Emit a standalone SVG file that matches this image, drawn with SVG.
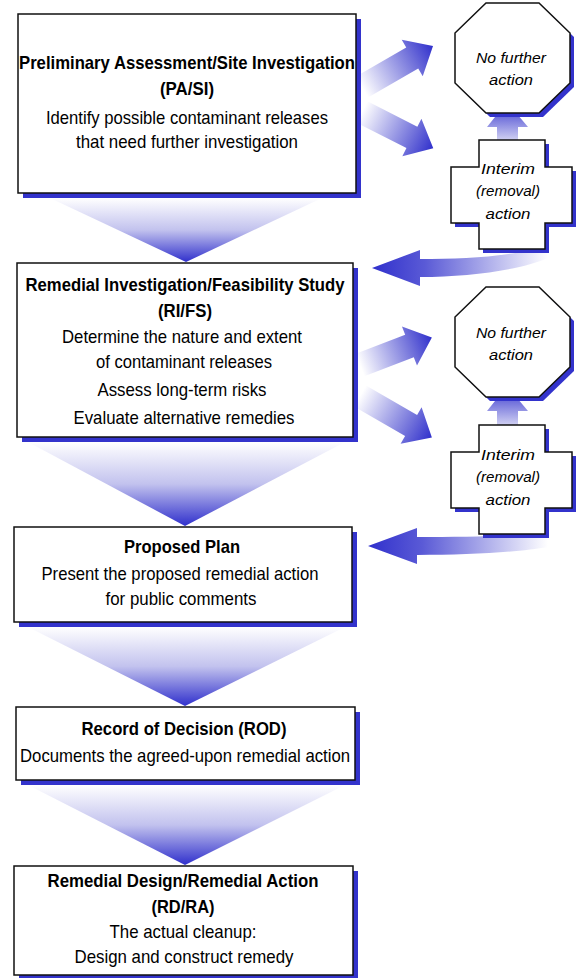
<svg xmlns="http://www.w3.org/2000/svg" width="581" height="978" viewBox="0 0 581 978">
<style>
.box{fill:#fff;stroke:#111;stroke-width:1.5}
.sh{fill:#3333cc}
.t{font-family:"Liberation Sans",Arial,sans-serif;font-weight:bold;font-size:19px;fill:#000;text-anchor:middle}
.b{font-family:"Liberation Sans",Arial,sans-serif;font-size:18.5px;fill:#000;text-anchor:middle}
.i{font-family:"Liberation Sans",Arial,sans-serif;font-style:italic;font-size:15.5px;fill:#000;text-anchor:middle}
</style>
<defs>
<linearGradient id="gFun" x1="0" y1="0" x2="0" y2="1">
<stop offset="0" stop-color="#ffffff"/>
<stop offset="0.5" stop-color="#c2c2ee"/>
<stop offset="1" stop-color="#3030cc"/>
</linearGradient>
<linearGradient id="gArr" x1="0" y1="0" x2="1" y2="0">
<stop offset="0" stop-color="#ffffff"/>
<stop offset="0.7" stop-color="#7070da"/>
<stop offset="1" stop-color="#3030cc"/>
</linearGradient>
<linearGradient id="gBack" x1="0" y1="0" x2="1" y2="0">
<stop offset="0" stop-color="#3030cc"/>
<stop offset="0.3" stop-color="#5a5ad6"/>
<stop offset="1" stop-color="#ffffff"/>
</linearGradient>
<linearGradient id="gUp" x1="0" y1="0" x2="0" y2="1">
<stop offset="0" stop-color="#3030cc"/>
<stop offset="1" stop-color="#d0d0f2"/>
</linearGradient>
<polygon id="oct" points="31,0 84,0 115,30 115,80 84,110 31,110 0,80 0,30"/>
<polygon id="crs" points="28,0 94,0 94,27 121,27 121,83 94,83 94,109 28,109 28,83 0,83 0,27 28,27"/>
</defs>

<g id="connectors">
<polygon points="50,198 322,198 186,262" fill="url(#gFun)"/>
<polygon points="28,442 345,442 185,526" fill="url(#gFun)"/>
<polygon points="28,627 345,627 185,706" fill="url(#gFun)"/>
<polygon points="28,785 345,785 185,865" fill="url(#gFun)"/>
<polygon transform="translate(362,87) rotate(-30)" points="0,-12 58,-12 58,-21 82,0 58,21 58,12 0,12" fill="url(#gArr)"/>
<polygon transform="translate(362,112) rotate(27)" points="0,-12 56,-12 56,-21 80,0 56,21 56,12 0,12" fill="url(#gArr)"/>
<polygon transform="translate(360,365) rotate(-21)" points="0,-12 53,-12 53,-21 77,0 53,21 53,12 0,12" fill="url(#gArr)"/>
<polygon transform="translate(360,396) rotate(30)" points="0,-12 59,-12 59,-21 83,0 59,21 59,12 0,12" fill="url(#gArr)"/>
<path d="M507,102 L528,127 L518,127 L518,140 L497,140 L497,127 L487,127 Z" fill="url(#gUp)"/>
<path d="M507,386 L528,411 L518,411 L518,425 L497,425 L497,411 L487,411 Z" fill="url(#gUp)"/>
<path d="M372,268 L420,250 L420,259 C470,259 520,256 548,244 L548,258 C520,270 470,277 420,277 L420,286 Z" fill="url(#gBack)"/>
<path d="M368,546 L417,528 L417,537 C470,537 520,536 548,532 L548,547 C520,552 470,555 417,555 L417,564 Z" fill="url(#gBack)"/>
</g>

<g id="pasi">
<rect class="sh" x="23" y="19" width="338" height="179"/>
<rect class="box" x="18" y="14" width="338" height="179"/>
<text class="t" x="187" y="69" textLength="336" lengthAdjust="spacingAndGlyphs">Preliminary Assessment/Site Investigation</text>
<text class="t" x="187" y="95" textLength="54" lengthAdjust="spacingAndGlyphs">(PA/SI)</text>
<text class="b" x="187" y="124" textLength="282" lengthAdjust="spacingAndGlyphs">Identify possible contaminant releases</text>
<text class="b" x="187" y="148" textLength="222" lengthAdjust="spacingAndGlyphs">that need further investigation</text>
</g>

<g id="rifs">
<rect class="sh" x="22" y="268" width="336" height="174"/>
<rect class="box" x="17" y="263" width="336" height="174"/>
<text class="t" x="185" y="291" textLength="319" lengthAdjust="spacingAndGlyphs">Remedial Investigation/Feasibility Study</text>
<text class="t" x="185" y="317" textLength="54" lengthAdjust="spacingAndGlyphs">(RI/FS)</text>
<text class="b" x="182" y="343" textLength="240" lengthAdjust="spacingAndGlyphs">Determine the nature and extent</text>
<text class="b" x="184" y="368" textLength="176" lengthAdjust="spacingAndGlyphs">of contaminant releases</text>
<text class="b" x="182" y="396" textLength="169" lengthAdjust="spacingAndGlyphs">Assess long-term risks</text>
<text class="b" x="184" y="424" textLength="221" lengthAdjust="spacingAndGlyphs">Evaluate alternative remedies</text>
</g>

<g id="plan">
<rect class="sh" x="19" y="532" width="338" height="95"/>
<rect class="box" x="14" y="527" width="338" height="95"/>
<text class="t" x="182" y="553" textLength="116" lengthAdjust="spacingAndGlyphs">Proposed Plan</text>
<text class="b" x="180" y="580" textLength="277" lengthAdjust="spacingAndGlyphs">Present the proposed remedial action</text>
<text class="b" x="181" y="605" textLength="151" lengthAdjust="spacingAndGlyphs">for public comments</text>
</g>

<g id="rod">
<rect class="sh" x="21" y="712" width="339" height="73"/>
<rect class="box" x="16" y="707" width="339" height="73"/>
<text class="t" x="184" y="735" textLength="205" lengthAdjust="spacingAndGlyphs">Record of Decision (ROD)</text>
<text class="b" x="185" y="762" textLength="330" lengthAdjust="spacingAndGlyphs">Documents the agreed-upon remedial action</text>
</g>

<g id="rdra">
<rect class="sh" x="19" y="871" width="339" height="109"/>
<rect class="box" x="14" y="866" width="339" height="109"/>
<text class="t" x="183" y="887" textLength="271" lengthAdjust="spacingAndGlyphs">Remedial Design/Remedial Action</text>
<text class="t" x="183" y="913" textLength="63" lengthAdjust="spacingAndGlyphs">(RD/RA)</text>
<text class="b" x="183" y="938" textLength="147" lengthAdjust="spacingAndGlyphs">The actual cleanup:</text>
<text class="b" x="184" y="963" textLength="219" lengthAdjust="spacingAndGlyphs">Design and construct remedy</text>
</g>

<g id="nfa1">
<use href="#oct" class="sh" x="459" y="7"/>
<use href="#oct" x="455" y="3" fill="#fff" stroke="#111" stroke-width="1.5"/>
<text class="i" x="511" y="63" textLength="70" lengthAdjust="spacingAndGlyphs">No further</text>
<text class="i" x="511" y="85" textLength="44" lengthAdjust="spacingAndGlyphs">action</text>
</g>

<g id="interim1">
<use href="#crs" class="sh" x="455" y="144"/>
<use href="#crs" x="451" y="140" fill="#fff" stroke="#111" stroke-width="1.5"/>
<text class="i" x="508" y="174" textLength="54" lengthAdjust="spacingAndGlyphs">Interim</text>
<text class="i" x="508" y="196" textLength="64" lengthAdjust="spacingAndGlyphs">(removal)</text>
<text class="i" x="508" y="219" textLength="45" lengthAdjust="spacingAndGlyphs">action</text>
</g>

<g id="nfa2">
<use href="#oct" class="sh" x="459" y="291"/>
<use href="#oct" x="455" y="287" fill="#fff" stroke="#111" stroke-width="1.5"/>
<text class="i" x="511" y="338" textLength="70" lengthAdjust="spacingAndGlyphs">No further</text>
<text class="i" x="511" y="360" textLength="44" lengthAdjust="spacingAndGlyphs">action</text>
</g>

<g id="interim2">
<use href="#crs" class="sh" x="455" y="429"/>
<use href="#crs" x="451" y="425" fill="#fff" stroke="#111" stroke-width="1.5"/>
<text class="i" x="508" y="460" textLength="54" lengthAdjust="spacingAndGlyphs">Interim</text>
<text class="i" x="508" y="482" textLength="64" lengthAdjust="spacingAndGlyphs">(removal)</text>
<text class="i" x="508" y="505" textLength="45" lengthAdjust="spacingAndGlyphs">action</text>
</g>
</svg>
